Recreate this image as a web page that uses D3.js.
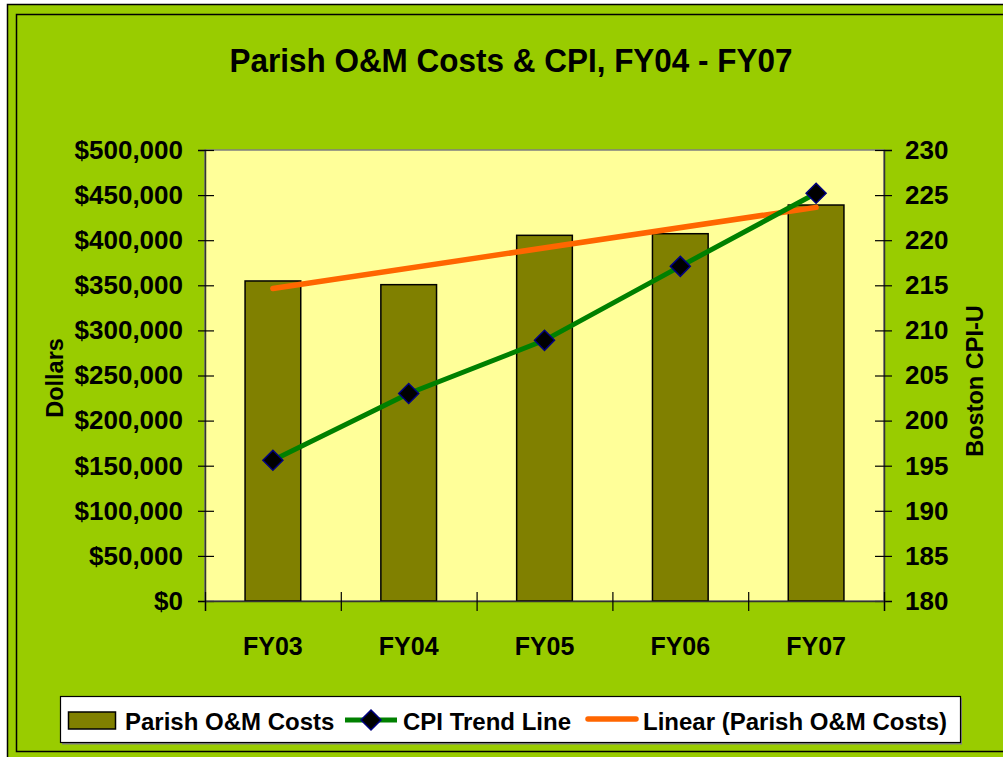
<!DOCTYPE html>
<html>
<head>
<meta charset="utf-8">
<script src="https://cdn.jsdelivr.net/npm/d3@7"></script>
<style>
  body { margin: 0; background: #ffffff; }
  svg text { font-family: 'Liberation Sans', Arial, sans-serif; font-weight: bold; fill: #000; }
</style>
</head>
<body>
<svg id="canvas"></svg>
<script>
const categories = ['FY03', 'FY04', 'FY05', 'FY06', 'FY07'];
const costs = [354800, 350700, 405400, 407200, 439000];
const cpi = [195.6, 203.0, 208.9, 217.1, 225.2];
const leftTicks = [0, 50000, 100000, 150000, 200000, 250000, 300000, 350000, 400000, 450000, 500000];
const rightTicks = [180, 185, 190, 195, 200, 205, 210, 215, 220, 225, 230];
const legendLabels = ['Parish O&M Costs', 'CPI Trend Line', 'Linear (Parish O&M Costs)'];

const width = 1003;
const height = 757;
const plot = { left: 205, right: 884, top: 150, bottom: 601 };

const svg = d3.select('#canvas').attr('width', width).attr('height', height);

// frame
svg.append('rect').attr('x', 7.5).attr('y', 4.5).attr('width', 1010).attr('height', 770)
    .attr('fill', '#99cc00').attr('stroke', '#000').attr('stroke-width', 1.5);
svg.append('rect').attr('x', 16.5).attr('y', 14.5).attr('width', 1000).attr('height', 737)
    .attr('fill', 'none').attr('stroke', '#000').attr('stroke-width', 1.5);

svg.append('text')
    .attr('x', 511).attr('y', 72)
    .attr('text-anchor', 'middle')
    .attr('textLength', 563)
    .attr('lengthAdjust', 'spacingAndGlyphs')
    .style('font-size', '32.5px')
    .text('Parish O&M Costs & CPI, FY04 - FY07');

// plot area
svg.append('rect')
    .attr('x', plot.left).attr('y', plot.top)
    .attr('width', plot.right - plot.left).attr('height', plot.bottom - plot.top)
    .attr('fill', '#ffff99').attr('stroke', '#808080').attr('stroke-width', 1.5);

const xScale = d3.scaleBand().domain(categories).range([plot.left, plot.right]);
const yLeft = d3.scaleLinear().domain([0, 500000]).range([plot.bottom, plot.top]);
const yRight = d3.scaleLinear().domain([180, 230]).range([plot.bottom, plot.top]);
const xCenter = (d) => xScale(d) + xScale.bandwidth() / 2;

// bars
const barWidth = xScale.bandwidth() * 0.41;
svg.selectAll('.bar')
    .data(categories)
    .enter()
    .append('rect')
    .attr('class', 'bar')
    .attr('x', (d) => xCenter(d) - barWidth / 2)
    .attr('y', (d, i) => yLeft(costs[i]))
    .attr('width', barWidth)
    .attr('height', (d, i) => plot.bottom - yLeft(costs[i]))
    .attr('fill', '#808000')
    .attr('stroke', '#000')
    .attr('stroke-width', 1.5);

// linear trend of costs (least squares over the five bars)
const xs = costs.map((v, i) => i);
const mx = d3.mean(xs);
const my = d3.mean(costs);
const slope = d3.sum(xs, (x, i) => (x - mx) * (costs[i] - my)) / d3.sum(xs, (x) => (x - mx) * (x - mx));
const intercept = my - slope * mx;
const trend = [0, categories.length - 1].map((i) => [xCenter(categories[i]), yLeft(intercept + slope * i)]);

// axes
const leftAxis = d3.axisLeft(yLeft)
    .tickValues(leftTicks)
    .tickFormat((d) => '$' + d3.format(',')(d))
    .tickSize(7).tickPadding(15);
const gl = svg.append('g').attr('transform', 'translate(' + plot.left + ',0)').call(leftAxis);

const rightAxis = d3.axisRight(yRight)
    .tickValues(rightTicks)
    .tickFormat(d3.format('d'))
    .tickSize(8).tickPadding(13);
const gr = svg.append('g').attr('transform', 'translate(' + plot.right + ',0)').call(rightAxis);

const boundaries = categories.map((d) => xScale(d)).concat([plot.right]);
const bottomTicks = d3.axisBottom(d3.scaleLinear().domain([plot.left, plot.right]).range([plot.left, plot.right]))
    .tickValues(boundaries).tickFormat('').tickSize(10);
const gb = svg.append('g').attr('transform', 'translate(0,' + plot.bottom + ')').call(bottomTicks);

const bottomLabels = d3.axisBottom(xScale).tickSize(0).tickPadding(36);
const gx = svg.append('g').attr('transform', 'translate(0,' + plot.bottom + ')').call(bottomLabels);
gx.select('.domain').remove();

gl.selectAll('.tick line').attr('x1', 9);
gr.selectAll('.tick line').attr('x1', -9);
gb.selectAll('.tick line').attr('y1', -9);
[gl, gr, gb].forEach((g) => {
    g.select('.domain').attr('stroke', '#333').attr('stroke-width', 1.5);
    g.selectAll('.tick line').attr('stroke', '#000').attr('stroke-width', 1.2);
});
[gl, gr, gx].forEach((g) => {
    g.selectAll('text').style('font-size', '26px').style('font-family', "'Liberation Sans', Arial, sans-serif")
        .style('font-weight', 'bold').attr('fill', '#000');
});
gx.selectAll('text').style('font-size', '25px');

// trend line
svg.append('path')
    .datum(trend)
    .attr('d', d3.line())
    .attr('fill', 'none')
    .attr('stroke', '#ff6600')
    .attr('stroke-width', 5.5)
    .attr('stroke-linecap', 'round');

// CPI line
svg.append('path')
    .datum(categories)
    .attr('d', d3.line().x((d) => xCenter(d)).y((d, i) => yRight(cpi[i])))
    .attr('fill', 'none')
    .attr('stroke', '#008000')
    .attr('stroke-width', 5);

const diamond = (cx, cy, r) => 'M' + cx + ',' + (cy - r) + 'L' + (cx + r) + ',' + cy + 'L' + cx + ',' + (cy + r) + 'L' + (cx - r) + ',' + cy + 'Z';

svg.selectAll('.marker')
    .data(categories)
    .enter()
    .append('path')
    .attr('class', 'marker')
    .attr('d', (d, i) => diamond(xCenter(d), yRight(cpi[i]), 10))
    .attr('fill', '#000')
    .attr('stroke', '#000080')
    .attr('stroke-width', 1.5);

// axis titles
svg.append('text')
    .attr('transform', 'translate(63,378) rotate(-90)')
    .attr('text-anchor', 'middle')
    .style('font-size', '23.5px')
    .text('Dollars');
svg.append('text')
    .attr('transform', 'translate(983,381) rotate(-90)')
    .attr('text-anchor', 'middle')
    .style('font-size', '23.5px')
    .text('Boston CPI-U');

// legend
const legend = svg.append('g');
legend.append('rect').attr('x', 62).attr('y', 698).attr('width', 900).attr('height', 46.5).attr('fill', '#808080');
legend.append('rect').attr('x', 60.5).attr('y', 696.5).attr('width', 900).attr('height', 46)
    .attr('fill', '#fff').attr('stroke', '#000').attr('stroke-width', 1.2);

legend.append('rect').attr('x', 68.5).attr('y', 712).attr('width', 47).attr('height', 17)
    .attr('fill', '#808000').attr('stroke', '#000').attr('stroke-width', 1.5);
legend.append('line').attr('x1', 345).attr('x2', 397).attr('y1', 720).attr('y2', 720)
    .attr('stroke', '#008000').attr('stroke-width', 5);
legend.append('path').attr('d', diamond(371, 720, 10))
    .attr('fill', '#000').attr('stroke', '#000080').attr('stroke-width', 1.5);
legend.append('line').attr('x1', 588).attr('x2', 636).attr('y1', 719).attr('y2', 719)
    .attr('stroke', '#ff6600').attr('stroke-width', 5.5).attr('stroke-linecap', 'round');

legend.selectAll('.legend-label')
    .data(legendLabels)
    .enter()
    .append('text')
    .attr('class', 'legend-label')
    .attr('x', (d, i) => [125, 403, 643][i])
    .attr('y', 730)
    .style('font-size', '24px')
    .text((d) => d);
</script>
</body>
</html>
